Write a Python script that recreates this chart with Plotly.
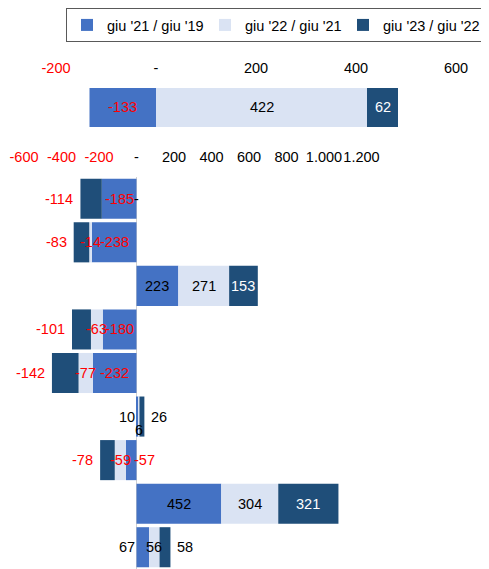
import plotly.graph_objects as go

# ---------------- data ----------------
series_names = ["giu '21 / giu '19", "giu '22 / giu '21", "giu '23 / giu '22"]

top_categories = ["Totale"]
top_s1 = [-133]
top_s2 = [422]
top_s3 = [62]

bottom_categories = ["c1", "c2", "c3", "c4", "c5", "c6", "c7", "c8", "c9"]
bot_s1 = [-185, -238, 223, -180, -232, 10, -57, 452, 67]
bot_s2 = [0, -14, 271, -63, -77, 6, -59, 304, 56]
bot_s3 = [-114, -83, 153, -101, -142, 26, -78, 321, 58]

top_ticks = [-200, 0, 200, 400, 600]
bottom_ticks = [-600, -400, -200, 0, 200, 400, 600, 800, 1000, 1200]

# ---------------- style ----------------
W, H = 489, 569
OFF = 8  # default page body margin in the browser
colors = ["#4472C4", "#DAE3F3", "#1F4E79"]
FONT = "Arial, 'Liberation Sans', sans-serif"
FS = 14.5

# label placement modes for the bottom panel (per series)
mode_s1 = ["c", "c", "c", "c", "c", "base", "inbase", "c", "base"]
mode_s2 = ["c"] * 9
mode_s3 = ["out", "out", "c", "out", "out", "out", "out", "c", "out"]
yshift_s2 = [0, 0, 0, 0, 0, -13, 0, 0, 0]


def fmt(v):
    if v == 0:
        return "-"
    s = f"{abs(v):,}".replace(",", ".")
    return ("-" if v < 0 else "") + s


def tick_text(v):
    t = fmt(v)
    if v < 0:
        return f"<span style='color:#FF0000'>{t}</span>"
    return t


fig = go.Figure()

top_series = [top_s1, top_s2, top_s3]
bot_series = [bot_s1, bot_s2, bot_s3]

for i in range(3):
    fig.add_trace(go.Bar(
        y=top_categories, x=top_series[i], orientation="h",
        name=series_names[i], marker=dict(color=colors[i], line=dict(width=0)),
        width=1, xaxis="x", yaxis="y", showlegend=True,
        hoverinfo="x+name",
    ))
for i in range(3):
    fig.add_trace(go.Bar(
        y=bottom_categories, x=bot_series[i], orientation="h",
        name=series_names[i], marker=dict(color=colors[i], line=dict(width=0)),
        xaxis="x2", yaxis="y2", showlegend=False,
        hoverinfo="x+name",
    ))

annotations = []


def add_labels(cats, series_list, modes_list, yshift_list, xref, yref):
    n = len(cats)
    pos_base = [0.0] * n
    neg_base = [0.0] * n
    for si, vals in enumerate(series_list):
        for k in range(n):
            v = vals[k]
            if v >= 0:
                start = pos_base[k]
                end = start + v
                pos_base[k] = end
            else:
                start = neg_base[k]
                end = start + v
                neg_base[k] = end
            mode = modes_list[si][k]
            xshift = 0
            if mode == "c":
                x = (start + end) / 2
                anchor = "center"
            elif mode == "out":
                x = end
                anchor = "right" if v < 0 else "left"
                xshift = -5 if v < 0 else 5
            elif mode == "inbase":
                x = start
                anchor = "left" if v < 0 else "right"
                xshift = -5 if v < 0 else 5
            else:  # base: outside the base of the bar
                x = start
                anchor = "right" if v >= 0 else "left"
            if v < 0:
                col = "#FF0000"
            elif si == 2 and mode == "c":
                col = "#FFFFFF"
            else:
                col = "#000000"
            annotations.append(dict(
                x=x, y=cats[k], xref=xref, yref=yref, text=fmt(v),
                showarrow=False, xanchor=anchor, yanchor="middle",
                xshift=xshift, yshift=yshift_list[si][k],
                font=dict(family=FONT, size=FS, color=col),
            ))


add_labels(top_categories, top_series, [["c"], ["c"], ["c"]], [[0], [0], [0]], "x", "y")
add_labels(bottom_categories, bot_series, [mode_s1, mode_s2, mode_s3],
           [[0] * 9, yshift_s2, [0] * 9], "x2", "y2")


def px_x(p):
    return (p - OFF) / W


def px_y(p):
    return 1 - (p - OFF) / H


axis_common = dict(
    side="top", showgrid=False, showline=False,
    zeroline=True, zerolinecolor="#D0D0D0", zerolinewidth=1,
    ticks="outside", ticklen=8, tickcolor="rgba(0,0,0,0)",
    tickangle=0, automargin=False,
    tickfont=dict(family=FONT, size=FS, color="#000000"),
    fixedrange=True,
)

fig.update_layout(
    width=W, height=H,
    margin=dict(l=0, r=0, t=0, b=0, pad=0, autoexpand=False),
    paper_bgcolor="white", plot_bgcolor="white",
    barmode="relative", bargap=0.08,
    font=dict(family=FONT, size=FS, color="#000000"),
    xaxis=dict(domain=[px_x(56), px_x(456)], range=[-200, 600],
               tickvals=top_ticks, ticktext=[tick_text(v) for v in top_ticks],
               anchor="y", **axis_common),
    yaxis=dict(domain=[px_y(127), px_y(88)], range=[-0.5, 0.5],
               showticklabels=False, showgrid=False, zeroline=False,
               anchor="x", fixedrange=True),
    xaxis2=dict(domain=[px_x(24), px_x(361.5)], range=[-600, 1200],
                tickvals=bottom_ticks, ticktext=[tick_text(v) for v in bottom_ticks],
                anchor="y2", **axis_common),
    yaxis2=dict(domain=[px_y(569), px_y(177)], range=[8.5, -0.5],
                showticklabels=False, showgrid=False, zeroline=False,
                anchor="x2", fixedrange=True),
    legend=dict(
        orientation="h", x=px_x(66), y=1, xanchor="left", yanchor="top",
        bordercolor="#595959", borderwidth=1, bgcolor="white",
        font=dict(family=FONT, size=FS, color="#000000"),
        entrywidth=93, entrywidthmode="pixels", itemwidth=30,
        traceorder="normal",
    ),
    annotations=annotations,
    showlegend=True,
)

fig.write_html("out.html")
